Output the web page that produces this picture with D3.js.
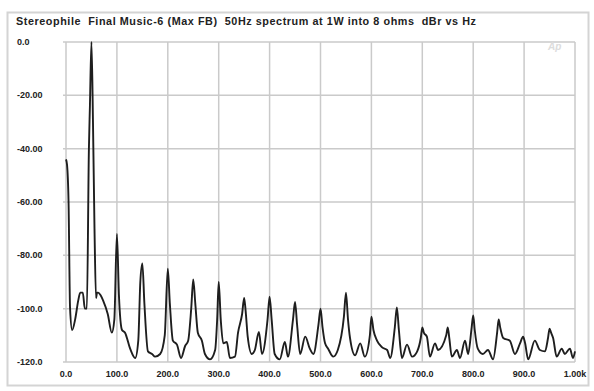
<!DOCTYPE html>
<html>
<head>
<meta charset="utf-8">
<script src="https://cdn.jsdelivr.net/npm/d3@7"></script>
<style>
  body { margin: 0; background: #fff; }
  text { font-family: "Liberation Sans", Arial, sans-serif; }
</style>
</head>
<body>
<div id="chart"></div>
<script>
// spectrum: frequency (Hz) and level (dBr)
const freqHz = [
  0, 2, 5, 8, 12, 18, 24, 28, 33, 37, 41, 45, 47, 50, 53, 56, 59,
  61, 63, 68, 73, 82, 90, 95, 100, 104, 110, 116, 126, 136, 142, 146,
  150, 154, 161, 169, 175, 185, 194, 200, 204, 210, 218, 226, 234, 240, 246,
  250, 254, 259, 267, 273, 283, 293, 297, 300, 304, 309, 316, 322, 332, 338, 346,
  350, 353, 357, 365, 371, 379, 385, 396, 400, 404, 410, 420, 430, 436, 446,
  450, 454, 460, 470, 479, 486, 496, 500, 504, 509, 515, 525, 534, 546,
  550, 554, 558, 568, 578, 587, 597, 600, 604, 611, 621, 631, 637, 646,
  650, 654, 660, 670, 680, 690, 697, 700, 703, 709, 715, 725, 731, 747,
  750, 753, 758, 768, 774, 784, 790, 797, 800, 803, 809, 819, 829, 839, 847,
  850, 853, 859, 872, 882, 892, 898, 902, 908, 921, 931, 941, 947,
  950, 953, 957, 964, 974, 980, 990, 996, 1000
];
const levelDb = [
  -44, -46, -60, -100, -108, -104, -97, -94, -94, -100, -100, -40, -24, 0, -30, -70, -96,
  -94, -94, -95, -97, -102, -109, -104, -72, -95, -108, -109, -115, -118.5, -112, -90,
  -83, -98, -116, -117, -118, -117, -110, -85, -98, -112, -113.5, -118.5, -114, -112, -100,
  -89, -98, -109, -112, -117, -119, -115.5, -104, -90, -104, -113, -112.5, -118.5, -118, -109, -102,
  -96, -101, -110.5, -117, -115.5, -108.7, -117, -104, -95.5, -104, -117, -119, -112.5, -118, -104,
  -97.5, -106, -117, -110.5, -115, -117, -106, -100, -107, -113, -115, -118, -115.5, -103,
  -94, -104, -111, -117.5, -113, -118, -110, -103, -108, -112, -114.5, -115.5, -118.5, -107,
  -99.5, -108, -118.5, -113.5, -118, -116, -111, -107, -109, -110.5, -118, -113, -115.5, -110,
  -107, -111, -118, -115.5, -118.5, -112, -117, -107, -102.5, -108, -115, -117, -115.5, -119, -109,
  -104, -107, -111, -112, -117, -113, -110.5, -113, -119, -112, -115.5, -116, -111,
  -107.5, -109, -111, -118, -115, -117, -115, -118.5, -116
];

const xTicks = [0, 100, 200, 300, 400, 500, 600, 700, 800, 900, 1000];
const xTickLabels = ['0.0', '100.0', '200.0', '300.0', '400.0', '500.0', '600.0', '700.0', '800.0', '900.0', '1.00k'];
const yTicks = [0, -20, -40, -60, -80, -100, -120];
const yTickLabels = ['0.0', '-20.00', '-40.00', '-60.00', '-80.00', '-100.0', '-120.0'];

const title = 'Stereophile  Final Music-6 (Max FB)  50Hz spectrum at 1W into 8 ohms  dBr vs Hz';

const width = 594;
const height = 391;
const margin = { top: 42, right: 19, bottom: 29, left: 66 };

const svg = d3.select('#chart')
  .append('svg')
  .attr('width', width)
  .attr('height', height);

// outer frame
svg.append('rect')
  .attr('x', 7.5).attr('y', 12.5)
  .attr('width', 581).attr('height', 373)
  .attr('fill', '#fff')
  .attr('stroke', '#d4d4d4')
  .attr('stroke-width', 2);

const x = d3.scaleLinear()
  .domain([0, 1000])
  .range([margin.left, width - margin.right]);

const y = d3.scaleLinear()
  .domain([-120, 0])
  .range([height - margin.bottom, margin.top]);

svg.append('text')
  .attr('x', 16)
  .attr('y', 25)
  .attr('font-size', 10.8)
  .attr('font-weight', 'bold')
  .attr('fill', '#222')
  .attr('textLength', 460)
  .attr('lengthAdjust', 'spacing')
  .style('white-space', 'pre')
  .text(title);

// grid
svg.append('g')
  .selectAll('line')
  .data(xTicks)
  .enter()
  .append('line')
  .attr('x1', d => x(d)).attr('x2', d => x(d))
  .attr('y1', y(0)).attr('y2', y(-120))
  .attr('stroke', '#cacaca')
  .attr('stroke-width', 1.5);

svg.append('g')
  .selectAll('line')
  .data(yTicks)
  .enter()
  .append('line')
  .attr('x1', x(0) - 3).attr('x2', x(1000))
  .attr('y1', d => y(d)).attr('y2', d => y(d))
  .attr('stroke', '#cacaca')
  .attr('stroke-width', 1.5);

// tick labels
svg.append('g')
  .selectAll('text')
  .data(yTicks)
  .enter()
  .append('text')
  .attr('x', 17)
  .attr('y', d => y(d) + 3)
  .attr('font-size', 9)
  .attr('font-weight', 'bold')
  .attr('fill', '#222')
  .text((d, i) => yTickLabels[i]);

svg.append('g')
  .selectAll('text')
  .data(xTicks)
  .enter()
  .append('text')
  .attr('x', d => x(d))
  .attr('y', y(-120) + 15)
  .attr('text-anchor', 'middle')
  .attr('font-size', 9)
  .attr('font-weight', 'bold')
  .attr('fill', '#222')
  .text((d, i) => xTickLabels[i]);

// faint logo in the corner
svg.append('text')
  .attr('x', x(960))
  .attr('y', y(-3))
  .attr('text-anchor', 'middle')
  .attr('font-size', 10)
  .attr('font-style', 'italic')
  .attr('font-weight', 'bold')
  .attr('fill', '#dcdcdc')
  .text('Ap');

const points = freqHz.map((f, i) => [f, levelDb[i]]);

const line = d3.line()
  .x(d => x(d[0]))
  .y(d => y(d[1]))
  .curve(d3.curveMonotoneX);

svg.append('path')
  .datum(points)
  .attr('d', line)
  .attr('fill', 'none')
  .attr('stroke', '#1e1e1e')
  .attr('stroke-width', 1.9)
  .attr('stroke-linejoin', 'round');
</script>
</body>
</html>
